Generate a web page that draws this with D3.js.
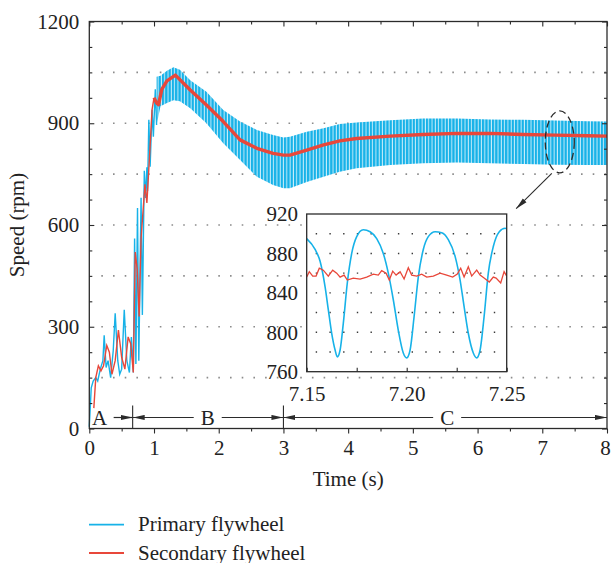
<!DOCTYPE html>
<html>
<head>
<meta charset="utf-8">
<script src="https://cdn.jsdelivr.net/npm/d3@7"></script>
<style>
  body { margin: 0; background: #fff; }
  svg text { font-family: 'Liberation Serif', 'DejaVu Serif', serif; font-size: 21px; fill: #222; }
</style>
</head>
<body>
<svg id="chart" width="611" height="563"></svg>
<script>
// ---- data ----
const xTicks = [0, 1, 2, 3, 4, 5, 6, 7, 8];
const yTicks = [0, 300, 600, 900, 1200];
const yGrid = [150, 300, 450, 600, 750, 900, 1050];

// start-up transient (time s, speed rpm)
const primaryStart = [
  [0, 5], [0.03, 120], [0.06, 140], [0.1, 150], [0.13, 140], [0.17, 175], [0.21, 200],
  [0.23, 275], [0.26, 180], [0.29, 200], [0.33, 150], [0.37, 230], [0.4, 340], [0.44, 200],
  [0.47, 160], [0.5, 175], [0.54, 350], [0.58, 200], [0.62, 165], [0.65, 270], [0.68, 165],
  [0.7, 560], [0.72, 190], [0.745, 650], [0.765, 200], [0.8, 680], [0.82, 335], [0.85, 760],
  [0.87, 680], [0.89, 770], [0.9, 700], [0.92, 910], [0.94, 772], [0.97, 940], [0.99, 860],
  [1.02, 1000], [1.04, 895],
];
const secondaryStart = [
  [0.07, 60], [0.1, 150], [0.14, 185], [0.18, 170], [0.22, 185], [0.27, 245], [0.31, 225],
  [0.35, 160], [0.4, 200], [0.45, 290], [0.5, 210], [0.55, 175], [0.6, 270], [0.64, 250],
  [0.68, 165], [0.71, 520], [0.74, 470], [0.77, 330], [0.8, 560], [0.86, 720], [0.89, 665],
  [0.93, 800], [0.97, 940], [1.0, 975],
];

// oscillation band of the primary flywheel (upper / lower envelope)
const bandTime = [1.04, 1.1, 1.2, 1.3, 1.4, 1.56, 1.81, 2.07, 2.33, 2.59, 2.84, 3.0, 3.1, 3.36, 3.62, 3.87, 4.13, 4.65, 5.16, 5.68, 6.19, 6.7, 7.2, 7.7, 8.0];
const bandUpper = [1037, 1040, 1055, 1065, 1058, 1027, 993, 939, 905, 880, 865, 858, 860, 875, 885, 898, 902, 909, 914, 914, 911, 910, 908, 906, 905];
const bandLower = [895, 950, 960, 968, 965, 944, 900, 841, 792, 742, 718, 708, 708, 727, 742, 757, 767, 777, 782, 784, 782, 780, 778, 777, 777];

// secondary flywheel after start-up
const redTime = [1.0, 1.04, 1.07, 1.12, 1.2, 1.33, 1.56, 1.81, 2.07, 2.33, 2.59, 2.84, 3.0, 3.1, 3.36, 3.62, 3.87, 4.13, 4.65, 5.16, 5.68, 6.19, 6.7, 7.2, 7.7, 8.0];
const redMean = [975, 960, 955, 1000, 1025, 1042, 998, 954, 905, 851, 826, 811, 806, 806, 821, 836, 848, 855, 862, 867, 870, 870, 867, 865, 863, 862];

// zoomed window 7.15 - 7.25 s
const zoomXTicks = [7.15, 7.2, 7.25];
const zoomYTicks = [760, 800, 840, 880, 920];
const zoomGrid = [780, 800, 820, 840, 860, 880, 900];
const zoomPrimary = [
  [7.15, 895], [7.1542, 884], [7.1567, 872], [7.1592, 846], [7.1608, 823], [7.1625, 799],
  [7.1642, 782], [7.1653, 775], [7.1667, 782], [7.1683, 809], [7.1703, 850], [7.1725, 880],
  [7.175, 897], [7.1783, 904], [7.1817, 902], [7.185, 895], [7.1883, 880], [7.1908, 860],
  [7.1933, 833], [7.1958, 802], [7.1983, 779], [7.2, 774], [7.2017, 782], [7.2037, 816],
  [7.2058, 856], [7.2083, 884], [7.2108, 897], [7.2142, 902], [7.2175, 901], [7.2208, 894],
  [7.2242, 877], [7.2267, 853], [7.2287, 826], [7.2308, 799], [7.2333, 779], [7.235, 774],
  [7.2367, 782], [7.2387, 816], [7.2408, 860], [7.2433, 887], [7.2463, 902], [7.2492, 905.5],
  [7.25, 905],
];
const zoomSecondary = [
  [7.15, 856], [7.1513, 861.5], [7.153, 857], [7.1547, 857], [7.1563, 865], [7.1583, 863],
  [7.1608, 857], [7.163, 863], [7.165, 860], [7.1667, 856], [7.1687, 858], [7.1703, 853],
  [7.1733, 855], [7.1767, 854], [7.18, 856], [7.1833, 859], [7.1858, 858], [7.1875, 862.5],
  [7.1897, 860], [7.1913, 853], [7.193, 862], [7.1947, 858], [7.1967, 861.5], [7.1987, 854],
  [7.2008, 865.5], [7.2025, 858], [7.205, 857], [7.2075, 859], [7.21, 856], [7.2133, 857],
  [7.2167, 860], [7.22, 858], [7.223, 856], [7.2253, 859], [7.227, 865], [7.2287, 856],
  [7.2308, 866.5], [7.2325, 857], [7.235, 863], [7.2367, 858], [7.2387, 855], [7.2413, 851],
  [7.2433, 856], [7.2447, 855], [7.247, 850], [7.2487, 861.5], [7.25, 857],
];

// operating phases
const phaseBounds = [0, 0.67, 3.0, 8];
const phaseLabels = ['A', 'B', 'C'];
const phaseLabelAt = [0.16, 1.83, 5.53];

// zoom marker (ellipse centre and arrow, in data units)
const markCentre = [7.27, 845];
const markArrow = [[7.147, 752], [6.596, 648]];

const seriesNames = ['Primary flywheel', 'Secondary flywheel'];

// ---- drawing ----
const blue = '#17b2e8';
const red = '#e8473a';
const ink = '#2b2b2b';

const svg = d3.select('#chart');
const margin = { top: 21.5, right: 4, bottom: 134.5, left: 89.3 };
const width = 611 - margin.left - margin.right;
const height = 563 - margin.top - margin.bottom;

const x = d3.scaleLinear().domain([0, 8]).range([0, width]);
const y = d3.scaleLinear().domain([0, 1200]).range([height, 0]);

const defs = svg.append('defs');

// vertical hatching used to render the dense oscillation of the primary flywheel
const stripes = defs.append('pattern')
  .attr('id', 'stripes')
  .attr('patternUnits', 'userSpaceOnUse')
  .attr('width', 3.3)
  .attr('height', 10);
stripes.append('rect').attr('width', 3.3).attr('height', 10).attr('fill', '#c9edfa');
stripes.append('rect').attr('width', 2.3).attr('height', 10).attr('fill', blue);

defs.append('marker')
  .attr('id', 'head')
  .attr('viewBox', '0 0 12 6')
  .attr('refX', 12)
  .attr('refY', 3)
  .attr('markerWidth', 12)
  .attr('markerHeight', 6)
  .attr('markerUnits', 'userSpaceOnUse')
  .attr('orient', 'auto')
  .append('path')
  .attr('d', 'M0,0.4L12,3L0,5.6Z')
  .attr('fill', ink);

const g = svg.append('g').attr('transform', `translate(${margin.left},${margin.top})`);

// dotted grid
g.selectAll('line.grid')
  .data(yGrid)
  .enter().append('line')
  .attr('class', 'grid')
  .attr('x1', 12)
  .attr('x2', width)
  .attr('y1', d => y(d))
  .attr('y2', d => y(d))
  .attr('stroke', '#8c8c8c')
  .attr('stroke-width', 1.6)
  .attr('stroke-dasharray', '1.6,10.1');

// primary flywheel band
const bandData = bandTime.map((t, i) => ({ t, hi: bandUpper[i], lo: bandLower[i] }));
g.append('path')
  .datum(bandData)
  .attr('fill', 'url(#stripes)')
  .attr('d', d3.area().x(d => x(d.t)).y0(d => y(d.lo)).y1(d => y(d.hi)));

const line = d3.line().x(d => x(d[0])).y(d => y(d[1]));

g.append('path')
  .datum(primaryStart)
  .attr('fill', 'none')
  .attr('stroke', blue)
  .attr('stroke-width', 1.4)
  .attr('d', line);

g.append('path')
  .datum(secondaryStart)
  .attr('fill', 'none')
  .attr('stroke', red)
  .attr('stroke-width', 1.4)
  .attr('d', line);

g.append('path')
  .datum(redTime.map((t, i) => [t, redMean[i]]))
  .attr('fill', 'none')
  .attr('stroke', red)
  .attr('stroke-width', 3.4)
  .attr('stroke-linejoin', 'round')
  .attr('d', line);

// axes: ticks out at the bottom, in on the other sides
const styleAxis = (sel) => {
  sel.select('.domain').remove();
  sel.selectAll('.tick line').attr('stroke', ink).attr('stroke-width', 1.1);
  sel.selectAll('.tick text').attr('fill', '#222');
  sel.attr('font-family', null).attr('font-size', null);
};

const xMinor = d3.range(0.5, 8, 1);
const yMinor = d3.range(75, 1200, 75).filter(v => v % 300 !== 0);

g.append('g').attr('transform', `translate(0,${height})`)
  .call(d3.axisBottom(x).tickValues(xTicks).tickSize(5).tickPadding(6.6).tickFormat(d3.format('d')))
  .call(styleAxis);
g.append('g').attr('transform', `translate(0,${height})`)
  .call(d3.axisBottom(x).tickValues(xMinor).tickSize(3).tickFormat(''))
  .call(styleAxis);
g.append('g')
  .call(d3.axisTop(x).tickValues(xTicks).tickSize(-5).tickFormat(''))
  .call(styleAxis);
g.append('g')
  .call(d3.axisTop(x).tickValues(xMinor).tickSize(-3).tickFormat(''))
  .call(styleAxis);
g.append('g')
  .call(d3.axisLeft(y).tickValues(yTicks).tickSize(-5).tickPadding(10).tickFormat(d3.format('d')))
  .call(styleAxis);
g.append('g')
  .call(d3.axisLeft(y).tickValues(yMinor).tickSize(-3).tickFormat(''))
  .call(styleAxis);
g.append('g').attr('transform', `translate(${width},0)`)
  .call(d3.axisRight(y).tickValues(yTicks).tickSize(-5).tickFormat(''))
  .call(styleAxis);
g.append('g').attr('transform', `translate(${width},0)`)
  .call(d3.axisRight(y).tickValues(yMinor).tickSize(-3).tickFormat(''))
  .call(styleAxis);

// the last label sits against the window edge, as in the figure
g.selectAll('.tick text').filter(d => d === 8).attr('dx', -2);

g.append('rect')
  .attr('width', width)
  .attr('height', height)
  .attr('fill', 'none')
  .attr('stroke', ink)
  .attr('stroke-width', 1.3);

g.append('text')
  .attr('x', width / 2)
  .attr('y', height + 57.5)
  .attr('text-anchor', 'middle')
  .text('Time (s)');

g.append('text')
  .attr('transform', 'rotate(-90)')
  .attr('x', -height / 2)
  .attr('y', 24 - margin.left)
  .attr('text-anchor', 'middle')
  .text('Speed (rpm)');

// phase annotation along the bottom
const arrowY = height - 11;
const gap = 14;
phaseLabels.forEach((label, i) => {
  const start = x(phaseBounds[i]);
  const end = x(phaseBounds[i + 1]);
  const c = x(phaseLabelAt[i]);

  g.append('text')
    .attr('x', c)
    .attr('y', arrowY + 7)
    .attr('text-anchor', 'middle')
    .text(label);

  if (c - gap - start > 15) {
    g.append('line')
      .attr('x1', c - gap).attr('x2', start)
      .attr('y1', arrowY).attr('y2', arrowY)
      .attr('stroke', ink).attr('stroke-width', 1.2)
      .attr('marker-end', 'url(#head)');
  }
  g.append('line')
    .attr('x1', c + gap).attr('x2', end)
    .attr('y1', arrowY).attr('y2', arrowY)
    .attr('stroke', ink).attr('stroke-width', 1.2)
    .attr('marker-end', 'url(#head)');
});

g.selectAll('line.sep')
  .data(phaseBounds.slice(1, -1))
  .enter().append('line')
  .attr('class', 'sep')
  .attr('x1', d => x(d)).attr('x2', d => x(d))
  .attr('y1', height - 23).attr('y2', height)
  .attr('stroke', ink)
  .attr('stroke-width', 1.1);

// dashed ellipse marking the zoomed window, and its arrow
g.append('ellipse')
  .attr('cx', x(markCentre[0]))
  .attr('cy', y(markCentre[1]))
  .attr('rx', 14.5)
  .attr('ry', 31)
  .attr('fill', 'none')
  .attr('stroke', ink)
  .attr('stroke-width', 1.3)
  .attr('stroke-dasharray', '7,4');

g.append('line')
  .attr('x1', x(markArrow[0][0])).attr('y1', y(markArrow[0][1]))
  .attr('x2', x(markArrow[1][0])).attr('y2', y(markArrow[1][1]))
  .attr('stroke', ink)
  .attr('stroke-width', 1.1)
  .attr('marker-end', 'url(#head)');

// ---- inset ----
const ix = d3.scaleLinear().domain([7.15, 7.25]).range([306.7, 506.7]);
const iy = d3.scaleLinear().domain([760, 920]).range([371.7, 214]);
const inset = svg.append('g');

inset.append('rect')
  .attr('x', ix(7.15)).attr('y', iy(920))
  .attr('width', ix(7.25) - ix(7.15)).attr('height', iy(760) - iy(920))
  .attr('fill', '#fff');

inset.selectAll('line.igrid')
  .data(zoomGrid)
  .enter().append('line')
  .attr('class', 'igrid')
  .attr('x1', ix(7.15) + 9)
  .attr('x2', ix(7.25))
  .attr('y1', d => iy(d))
  .attr('y2', d => iy(d))
  .attr('stroke', '#3a3a3a')
  .attr('stroke-width', 1.4)
  .attr('stroke-dasharray', '1.4,12.3');

defs.append('clipPath').attr('id', 'insetClip')
  .append('rect')
  .attr('x', ix(7.15)).attr('y', iy(920))
  .attr('width', ix(7.25) - ix(7.15)).attr('height', iy(760) - iy(920));

const plotArea = inset.append('g').attr('clip-path', 'url(#insetClip)');

plotArea.append('path')
  .datum(zoomPrimary)
  .attr('fill', 'none')
  .attr('stroke', blue)
  .attr('stroke-width', 1.6)
  .attr('d', d3.line().x(d => ix(d[0])).y(d => iy(d[1])).curve(d3.curveMonotoneX));

plotArea.append('path')
  .datum(zoomSecondary)
  .attr('fill', 'none')
  .attr('stroke', red)
  .attr('stroke-width', 1.3)
  .attr('d', d3.line().x(d => ix(d[0])).y(d => iy(d[1])));

inset.append('g').attr('transform', `translate(0,${iy(760)})`)
  .call(d3.axisBottom(ix).tickValues(zoomXTicks).tickSize(0).tickPadding(14).tickFormat(d3.format('.2f')))
  .call(styleAxis);
inset.append('g').attr('transform', `translate(0,${iy(760)})`)
  .call(d3.axisBottom(ix).tickValues(d3.range(7.15, 7.26, 0.025)).tickSize(-4).tickFormat(''))
  .call(styleAxis);
inset.append('g').attr('transform', `translate(${ix(7.15)},0)`)
  .call(d3.axisLeft(iy).tickValues(zoomYTicks).tickSize(0).tickPadding(8.7).tickFormat(d3.format('d')))
  .call(styleAxis);

inset.append('rect')
  .attr('x', ix(7.15)).attr('y', iy(920))
  .attr('width', ix(7.25) - ix(7.15)).attr('height', iy(760) - iy(920))
  .attr('fill', 'none')
  .attr('stroke', ink)
  .attr('stroke-width', 1.3);

// ---- legend ----
const legend = svg.append('g').attr('transform', 'translate(89,524.7)');
const legendColors = [blue, red];
seriesNames.forEach((name, i) => {
  const row = legend.append('g').attr('transform', `translate(0,${i * 28.3})`);
  row.append('line')
    .attr('x1', 0).attr('x2', 35)
    .attr('stroke', legendColors[i])
    .attr('stroke-width', 1.8);
  row.append('text')
    .attr('x', 49)
    .attr('y', 6.5)
    .text(name);
});
</script>
</body>
</html>
